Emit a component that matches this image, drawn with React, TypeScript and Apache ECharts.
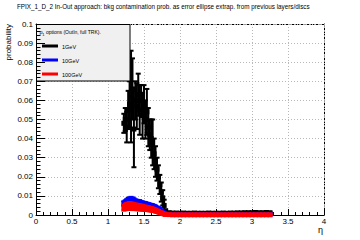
import React, { useEffect, useRef } from "react";
import * as echarts from "echarts";

const FONT = "'Liberation Sans', Arial, Helvetica, sans-serif";

const titleText =
  "FPIX_1_D_2 In-Out approach: bkg contamination prob. as error ellipse extrap. from previous layers/discs";
const yTitle = "probability";
const xTitle = "η";
const legendHeader = " options (OutIn, full TRK).";
const seriesNames = ["1GeV", "10GeV", "100GeV"];
const seriesColors = ["#000000", "#0000ff", "#ff0000"];

const etaCore = [
  1.22, 1.24, 1.26, 1.28, 1.3, 1.32, 1.34, 1.36, 1.38, 1.4, 1.42, 1.44, 1.46, 1.48, 1.5,
  1.52, 1.54, 1.56, 1.58, 1.6, 1.62, 1.64, 1.66, 1.68, 1.7, 1.72, 1.74, 1.76, 1.78, 1.8,
];
const blackCore = [
  0.048, 0.05, 0.046, 0.055, 0.058, 0.062, 0.066, 0.045, 0.06, 0.057, 0.063, 0.055, 0.06, 0.052, 0.058,
  0.05, 0.054, 0.046, 0.042, 0.04, 0.038, 0.032, 0.028, 0.024, 0.02, 0.016, 0.012, 0.009, 0.005, 0.002,
];
const blackCoreErr = [
  0.005, 0.006, 0.008, 0.01, 0.012, 0.024, 0.016, 0.02, 0.01, 0.012, 0.011, 0.013, 0.008, 0.012, 0.01,
  0.01, 0.012, 0.01, 0.008, 0.01, 0.012, 0.008, 0.008, 0.006, 0.006, 0.005, 0.005, 0.004, 0.003, 0.001,
];
const blueCore = [
  0.006, 0.0065, 0.007, 0.0075, 0.0078, 0.008, 0.0078, 0.0075, 0.007, 0.0068, 0.0065, 0.0066, 0.0062, 0.006, 0.0058,
  0.0056, 0.0055, 0.0052, 0.005, 0.0048, 0.0046, 0.0044, 0.004, 0.0036, 0.0032, 0.0028, 0.0022, 0.0016, 0.001, 0.0006,
];
const blueCoreErr = [
  0.0012, 0.0012, 0.0013, 0.0014, 0.0015, 0.0015, 0.0014, 0.0013, 0.0012, 0.0012, 0.0012, 0.0012, 0.0011, 0.0011, 0.0011,
  0.0011, 0.001, 0.001, 0.001, 0.001, 0.001, 0.0009, 0.0009, 0.0008, 0.0008, 0.0007, 0.0006, 0.0005, 0.0004, 0.0003,
];
const redCore = [
  0.0038, 0.0042, 0.0045, 0.0046, 0.0047, 0.0046, 0.0045, 0.0044, 0.0043, 0.0042, 0.0041, 0.004, 0.0039, 0.0038, 0.0036,
  0.0035, 0.0034, 0.0033, 0.0031, 0.003, 0.0028, 0.0026, 0.0023, 0.002, 0.0017, 0.0014, 0.0011, 0.0008, 0.0005, 0.0003,
];
const redCoreErr = [
  0.0015, 0.0017, 0.0018, 0.0019, 0.002, 0.002, 0.0019, 0.0018, 0.0017, 0.0017, 0.0016, 0.0016, 0.0015, 0.0015, 0.0014,
  0.0014, 0.0013, 0.0013, 0.0012, 0.0012, 0.0011, 0.001, 0.001, 0.0009, 0.0008, 0.0007, 0.0006, 0.0005, 0.0004, 0.0003,
];

const etaTail = [
  1.85, 1.9, 1.95, 2.0, 2.05, 2.1, 2.15, 2.2, 2.25, 2.3, 2.35, 2.4, 2.45, 2.5, 2.55,
  2.6, 2.65, 2.7, 2.75, 2.8, 2.85, 2.9, 2.95, 3.0, 3.05, 3.1, 3.15, 3.2, 3.25,
];
const blackTail = [
  0.0012, 0.001, 0.001, 0.0009, 0.001, 0.0009, 0.0009, 0.001, 0.0009, 0.0009, 0.0009, 0.001, 0.0009, 0.0009, 0.0009,
  0.001, 0.0009, 0.001, 0.001, 0.0011, 0.0011, 0.0012, 0.0012, 0.0012, 0.0013, 0.0012, 0.0012, 0.0013, 0.0012,
];
const blueTail = [
  0.0005, 0.0004, 0.0004, 0.0003, 0.0003, 0.0003, 0.0003, 0.0003, 0.0003, 0.0003, 0.0003, 0.0003, 0.0003, 0.0003, 0.0003,
  0.0003, 0.0003, 0.0003, 0.0003, 0.0003, 0.0003, 0.0003, 0.0003, 0.0003, 0.0003, 0.0003, 0.0003, 0.0003, 0.0003,
];
const redTail = [
  0.0002, 0.0001, 0.0001, 0.0001, 0.0001, 0.0001, 0.0001, 0.0001, 0.0001, 0.0001, 0.0001, 0.0001, 0.0001, 0.0001, 0.0001,
  0.0001, 0.0001, 0.0001, 0.0001, 0.0001, 0.0001, 0.0001, 0.0001, 0.0001, 0.0001, 0.0001, 0.0001, 0.0001, 0.0001,
];
const tailErr = 0.0003;

const xTicks = { min: 0, max: 4, interval: 0.5 };
const yTicks = { min: 0, max: 0.1, interval: 0.01 };

function buildData(core: number[], coreErr: number[], tail: number[]) {
  const d: number[][] = etaCore.map((e, i) => [e, core[i], coreErr[i]]);
  etaTail.forEach((e, i) => d.push([e, tail[i], tailErr]));
  return d;
}

function makeRender(color: string) {
  const msize = 5;
  const cap = 2.5;
  return (_params: any, api: any) => {
    const x = api.value(0);
    const y = api.value(1);
    const e = api.value(2);
    const c = api.coord([x, y]);
    const hi = api.coord([x, y + e]);
    const lo = api.coord([x, y - e]);
    const st = { stroke: color, lineWidth: 2 };
    return {
      type: "group",
      children: [
        { type: "line", shape: { x1: c[0], y1: hi[1], x2: c[0], y2: lo[1] }, style: st },
        { type: "line", shape: { x1: c[0] - cap, y1: hi[1], x2: c[0] + cap, y2: hi[1] }, style: st },
        { type: "line", shape: { x1: c[0] - cap, y1: lo[1], x2: c[0] + cap, y2: lo[1] }, style: st },
        {
          type: "rect",
          shape: { x: c[0] - msize / 2, y: c[1] - msize / 2, width: msize, height: msize },
          style: { fill: color },
        },
      ],
    };
  };
}

export default function App() {
  const ref = useRef<HTMLDivElement>(null);
  useEffect(() => {
    if (!ref.current) return;
    const chart = echarts.init(ref.current, null, { renderer: "svg" });
    const datasets = [
      buildData(blackCore, blackCoreErr, blackTail),
      buildData(blueCore, blueCoreErr, blueTail),
      buildData(redCore, redCoreErr, redTail),
    ];
    const grid = { left: 36, right: 36, top: 24, bottom: 25 };
    const legendRows = [46, 60, 74];
    const option: any = {
      animation: false,
      backgroundColor: "#ffffff",
      textStyle: { fontFamily: FONT },
      grid,
      xAxis: [
        {
          type: "value",
          ...xTicks,
          position: "bottom",
          z: 3,
          axisLine: { onZero: false, lineStyle: { color: "#000", width: 1 } },
          axisTick: { inside: true, length: 6, lineStyle: { color: "#000" } },
          minorTick: { show: true, splitNumber: 5, length: 3, lineStyle: { color: "#000" } },
          axisLabel: {
            color: "#000",
            fontSize: 8,
            margin: 2,
            fontFamily: FONT,
            formatter: (v: number) => String(parseFloat(v.toFixed(1))),
          },
          splitLine: { show: true, lineStyle: { color: "#b8b8b8", type: [1, 2] } },
        },
        {
          type: "value",
          ...xTicks,
          position: "top",
          axisLine: { onZero: false, lineStyle: { color: "#000", width: 1, type: [3, 2] } },
          axisTick: { show: false },
          axisLabel: { show: false },
          splitLine: { show: false },
        },
      ],
      yAxis: [
        {
          type: "value",
          ...yTicks,
          position: "left",
          z: 200,
          axisLine: { onZero: false, lineStyle: { color: "#000", width: 1 } },
          axisTick: { inside: true, length: 9, lineStyle: { color: "#000" } },
          minorTick: { show: true, splitNumber: 5, length: 4.5, lineStyle: { color: "#000" } },
          axisLabel: {
            color: "#000",
            fontSize: 8,
            margin: 3,
            fontFamily: FONT,
            formatter: (v: number) => String(parseFloat(v.toFixed(2))),
          },
          splitLine: { show: false },
        },
        {
          type: "value",
          ...yTicks,
          position: "right",
          z: 1,
          axisLine: { onZero: false, lineStyle: { color: "#000", width: 1, type: [3, 2] } },
          axisTick: { show: false },
          axisLabel: { show: false },
          splitLine: { show: true, lineStyle: { color: "#b8b8b8", type: [1, 2] } },
        },
      ],
      series: datasets.map((d, i) => ({
        type: "custom",
        name: seriesNames[i],
        xAxisIndex: 0,
        yAxisIndex: 0,
        z: 5 + i,
        clip: false,
        renderItem: makeRender(seriesColors[i]),
        data: d,
      })),
      graphic: [
        {
          type: "text",
          x: 17,
          y: 6.5,
          z: 100,
          style: { text: titleText, fontSize: 6.3, fontFamily: FONT, fill: "#000", verticalAlign: "middle" },
        },
        {
          type: "text",
          x: 8.5,
          y: 24,
          rotation: Math.PI / 2,
          z: 100,
          style: { text: yTitle, fontSize: 8, fontFamily: FONT, fill: "#000", align: "right", verticalAlign: "middle" },
        },
        {
          type: "text",
          x: 323,
          y: 230,
          z: 100,
          style: { text: xTitle, fontSize: 9, fontFamily: FONT, fill: "#000", align: "right", verticalAlign: "middle" },
        },
        {
          type: "group",
          z: 100,
          children: [
            {
              type: "rect",
              z: 100,
              shape: { x: 36.5, y: 24.5, width: 93.5, height: 56.5 },
              style: { fill: "#f0f0f0", stroke: "#000", lineWidth: 1 },
            },
            {
              type: "text",
              z: 101,
              x: 39.5,
              y: 32,
              style: { text: "p", fontSize: 5.5, fontFamily: FONT, fill: "#000", verticalAlign: "middle" },
            },
            {
              type: "text",
              z: 101,
              x: 42.3,
              y: 34.5,
              style: { text: "1", fontSize: 4, fontFamily: FONT, fill: "#000", verticalAlign: "middle" },
            },
            {
              type: "text",
              z: 101,
              x: 44.5,
              y: 32,
              style: { text: legendHeader, fontSize: 5, fontFamily: FONT, fill: "#000", verticalAlign: "middle" },
            },
            ...seriesNames.flatMap((n, i) => [
              {
                type: "line",
                z: 101,
                shape: { x1: 42, y1: legendRows[i], x2: 58, y2: legendRows[i] },
                style: { stroke: seriesColors[i], lineWidth: 3 },
              },
              {
                type: "text",
                z: 101,
                x: 62,
                y: legendRows[i] + 0.5,
                style: { text: n, fontSize: 5.5, fontFamily: FONT, fill: "#000", verticalAlign: "middle" },
              },
            ]),
          ],
        },
      ],
    };
    chart.setOption(option);
    return () => chart.dispose();
  }, []);
  return <div ref={ref} style={{ width: 360, height: 240, position: "absolute", left: 0, top: 0 }} />;
}
